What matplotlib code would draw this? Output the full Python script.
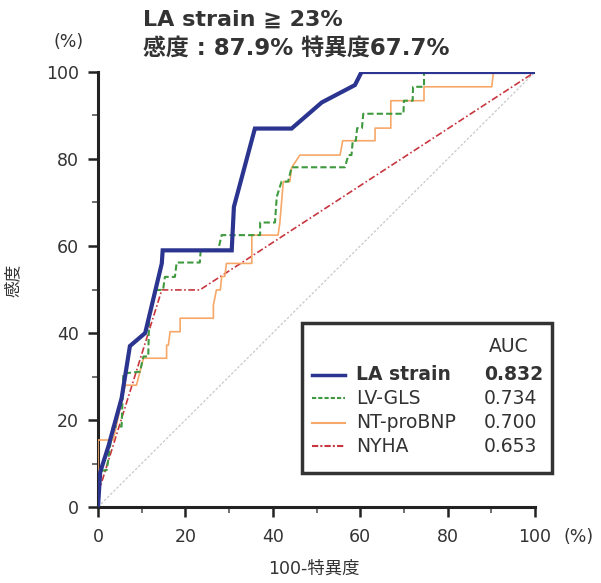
import matplotlib.pyplot as plt
from matplotlib.lines import Line2D
from matplotlib.patches import Rectangle

plt.rcParams['font.family'] = ['DejaVu Sans', 'Noto Sans CJK JP']

# ROC curves (x = 100-specificity, y = sensitivity, %)
la_x = [0, 0.5, 2.4, 5.4, 7.3, 10.8, 14.6, 14.8, 30.6, 31.1, 35.9, 44.3, 51.2, 58.8, 60.3, 100]
la_y = [0, 8, 14, 25, 37, 40, 56, 59, 59, 69, 87, 87, 93, 97, 100, 100]

gls_x = [0, 0.5, 2.0, 3.4, 5.4, 5.8, 9.6, 10.4, 11.5, 11.7, 13.0, 14.9, 15.3, 17.6, 18.0, 23.3,
         23.5, 27.5, 28.3, 37.1, 37.1, 40.5, 40.9, 42.0, 43.5, 44.3, 56.5, 57.3, 58.0,
         58.3, 59.0, 59.3, 60.4, 60.7, 69.9, 70.0, 72.0, 72.1, 74.6, 74.6, 100]
gls_y = [0, 8.3, 8.5, 18.5, 18.5, 30.7, 31.1, 34.6, 34.6, 43.7, 49.9, 49.9, 52.9, 52.9, 56.2, 56.2,
         59.1, 59.1, 62.5, 62.5, 65.4, 65.4, 71.3, 74.8, 74.8, 78.1, 78.1, 80.9, 80.9,
         84.2, 84.2, 87.1, 87.1, 90.4, 90.4, 93.4, 93.4, 96.6, 96.6, 100, 100]

bnp_x = [0, 0, 3.5, 6.2, 8.8, 10.4, 15.7, 15.7, 16.1, 16.5, 18.8, 18.8, 26.4, 26.4, 27.1, 28.0,
         28.3, 29.0, 29.4, 35.2, 35.2, 41.2, 41.6, 42.4, 43.9, 44.3, 46.2, 55.4,
         56.0, 63.4, 63.4, 67.0, 67.0, 74.6, 74.6, 90.1, 90.5, 100]
bnp_y = [0, 15.4, 15.4, 28, 28, 34.2, 34.2, 37.2, 37.2, 40.3, 40.3, 43.4, 43.4, 46.4, 49.9, 49.9,
         53, 53, 56, 56, 62.5, 62.5, 65.2, 74.8, 74.8, 78, 80.9, 80.9,
         84.2, 84.2, 87.1, 87.1, 93.4, 93.4, 96.6, 96.6, 100, 100]

nyha_x = [0, 0, 14.6, 23.3, 100]
nyha_y = [0, 3, 49.9, 49.9, 100]

names = ['LA strain', 'LV-GLS', 'NT-proBNP', 'NYHA']
auc = ['0.832', '0.734', '0.700', '0.653']

blue = '#2b3590'
green = '#3f9a3f'
orange = '#f7a869'
red = '#c8363f'
txt = '#333333'

W, H = 601, 583
fig = plt.figure(figsize=(W / 100, H / 100), dpi=100)
ax = fig.add_axes([98 / W, 1 - 507 / H, (535 - 98) / W, (507 - 72) / H])

ax.plot([0, 100], [0, 100], color='#c8c8c8', lw=0.9, ls=(0, (2, 1.5)), zorder=1)
ax.plot(nyha_x, nyha_y, color=red, lw=1.2, ls=(0, (4, 1.5, 1, 1.5)), zorder=2)
ax.plot(bnp_x, bnp_y, color=orange, lw=1.2, zorder=3)
ax.plot(gls_x, gls_y, color=green, lw=1.5, ls=(0, (3, 1.5)), zorder=4)
ax.plot(la_x, la_y, color=blue, lw=3, zorder=5, solid_joinstyle='miter')

ax.set_xlim(0, 100)
ax.set_ylim(0, 100)
ax.set_xticks(range(0, 101, 20))
ax.set_yticks(range(0, 101, 20))
ax.set_xticks(range(10, 100, 20), minor=True)
ax.set_yticks(range(10, 100, 20), minor=True)
for s in ['top', 'right']:
    ax.spines[s].set_visible(False)
for s in ['left', 'bottom']:
    ax.spines[s].set_linewidth(2.2)
    ax.spines[s].set_color('#222222')
ax.tick_params(which='major', length=7.5, width=1.8, color='#222222', labelsize=12.5,
               labelcolor=txt, direction='out')
ax.tick_params(which='minor', length=4, width=1.2, color='#555555', direction='out')
ax.tick_params(axis='x', which='major', pad=7.5)
ax.tick_params(axis='y', which='major', pad=6)

# titles and axis labels
fig.text(143 / W, 1 - 20 / H, 'LA strain ≧ 23%', fontsize=16, fontweight='bold',
         color=txt, va='center', ha='left')
fig.text(143 / W, 1 - 48 / H, '感度 : 87.9% 特異度67.7%', fontsize=16.5, fontweight='bold',
         color=txt, va='center', ha='left')
fig.text(69 / W, 1 - 42 / H, '(%)', fontsize=12.5, color=txt, ha='center', va='center')
fig.text(579 / W, 1 - 537 / H, '(%)', fontsize=12.5, color=txt, ha='center', va='center')
fig.text(314 / W, 1 - 569 / H, '100-特異度', fontsize=12.5, color=txt, ha='center', va='center')
fig.text(13 / W, 1 - 280 / H, '感度', fontsize=12, color=txt, ha='center', va='center',
         rotation=90)

# legend box
fig.patches.append(Rectangle((302 / W, 1 - 473 / H), 250 / W, 150 / H, transform=fig.transFigure,
                             facecolor='white', edgecolor='#333333', lw=2.5, zorder=10))
fig.text(509 / W, 1 - 346 / H, 'AUC', fontsize=13.5, color=txt, ha='center', va='center',
         zorder=11)
rows_y = [375, 398, 423, 446]
styles = [(blue, 2.5, '-'), (green, 1.5, (0, (2, 1))), (orange, 1.5, '-'), (red, 1.5, (0, (3, 1, 1, 1)))]
for name, a, ry, (c, lw, ls) in zip(names, auc, rows_y, styles):
    yy = 1 - ry / H
    fig.lines.append(Line2D([312 / W, 345 / W], [yy, yy], color=c, lw=lw, ls=ls,
                            transform=fig.transFigure, zorder=11))
    fw = 'bold' if name == 'LA strain' else 'normal'
    fig.text(356 / W, yy, name, fontsize=13.5, fontweight=fw, color=txt,
             ha='left', va='center', zorder=11)
    fig.text(484 / W, yy, a, fontsize=13.5, fontweight=fw, color=txt,
             ha='left', va='center', zorder=11)

fig.savefig('out.png', dpi=100)
